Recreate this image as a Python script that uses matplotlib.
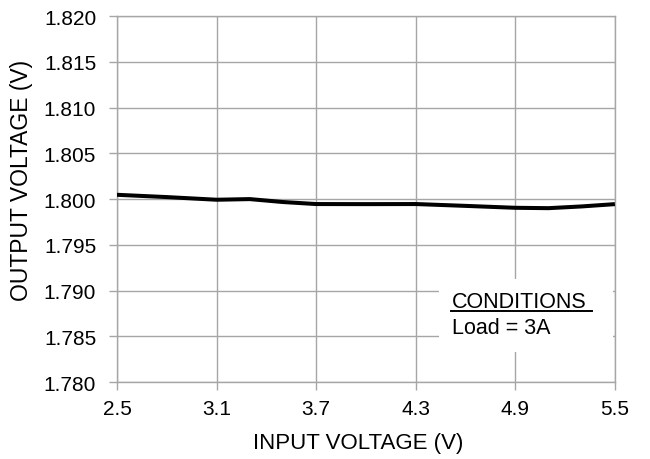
import matplotlib.pyplot as plt
from matplotlib.patches import Rectangle

plt.rcParams["font.family"] = ["Liberation Sans", "DejaVu Sans"]

vin = [2.5, 2.8, 3.1, 3.3, 3.5, 3.7, 4.0, 4.3, 4.6, 4.9, 5.1, 5.3, 5.5]
vout = [1.80047, 1.80022, 1.79993, 1.80000, 1.79968, 1.79946, 1.79945, 1.79946,
        1.79926, 1.79905, 1.79901, 1.79920, 1.79945]
xticks = [2.5, 3.1, 3.7, 4.3, 4.9, 5.5]
yticks = [1.780, 1.785, 1.790, 1.795, 1.800, 1.805, 1.810, 1.815, 1.820]

grey = "#a6a6a6"

fig = plt.figure(figsize=(6.5, 4.6), dpi=100)
ax = fig.add_axes([0.18, 0.167, 0.766, 0.796])

ax.plot(vin, vout, color="black", linewidth=2.9, solid_capstyle="butt", zorder=3)

ax.set_xlim(2.5, 5.5)
ax.set_ylim(1.780, 1.820)
ax.set_xticks(xticks)
ax.set_xticklabels([f"{v:.1f}" for v in xticks])
ax.set_yticks(yticks)
ax.set_yticklabels([f"{v:.3f}" for v in yticks])
ax.grid(True, color=grey, linewidth=1.0)
ax.set_axisbelow(True)
for s in ax.spines.values():
    s.set_color(grey)
    s.set_linewidth(1.0)
ax.tick_params(axis="both", colors=grey, length=6, width=1.0, labelsize=15,
               labelcolor="black")
ax.tick_params(axis="x", pad=6)
ax.tick_params(axis="y", pad=9)

ax.set_xlabel("INPUT VOLTAGE (V)", fontsize=16, va="center")
ax.xaxis.set_label_coords(0.484, -0.164)
ax.set_ylabel("OUTPUT VOLTAGE (V)", fontsize=16.5, va="center")
ax.yaxis.set_label_coords(-0.191, 0.555)

# conditions box
ax.add_patch(Rectangle((0.647, 0.082), 0.349, 0.199, transform=ax.transAxes,
                       facecolor="white", edgecolor="none", zorder=2))
ax.text(0.673, 0.205, "CONDITIONS", transform=ax.transAxes, fontsize=15.5,
        va="baseline", ha="left", zorder=4)
ax.plot([0.671, 0.955], [0.194, 0.194], transform=ax.transAxes, color="black",
        linewidth=1.4, zorder=4)
ax.text(0.673, 0.134, "Load = 3A", transform=ax.transAxes, fontsize=15.5,
        va="baseline", ha="left", zorder=4)

fig.savefig("out.png", dpi=100)
